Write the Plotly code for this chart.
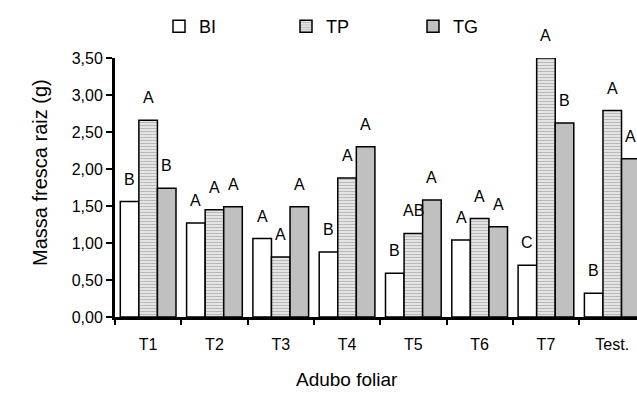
import plotly.graph_objects as go

categories = ["T1", "T2", "T3", "T4", "T5", "T6", "T7", "Test."]
series_names = ["BI", "TP", "TG"]
bi_values = [1.56, 1.27, 1.06, 0.88, 0.59, 1.04, 0.70, 0.32]
tp_values = [2.66, 1.45, 0.81, 1.88, 1.13, 1.33, 3.50, 2.79]
tg_values = [1.74, 1.49, 1.49, 2.30, 1.58, 1.22, 2.62, 2.14]
bi_letters = ["B", "A", "A", "B", "B", "A", "C", "B"]
tp_letters = ["A", "A", "A", "A", "AB", "A", "A", "A"]
tg_letters = ["B", "A", "A", "A", "A", "A", "B", "A"]
y_tick_values = [0, 0.5, 1.0, 1.5, 2.0, 2.5, 3.0, 3.5]

FONT = "Liberation Sans, Arial, sans-serif"
W, H = 637, 396
ML, MT, MB = 115, 58, 79
cat_px = 66.3
bargap = 0.16
plot_w = W - ML
plot_h = H - MT - MB
x_range = [-0.5, -0.5 + plot_w / cat_px]
bar_px = (1 - bargap) * cat_px / 3

fig = go.Figure()
fig.add_trace(go.Bar(name="BI", x=categories, y=bi_values,
                     marker=dict(color="white", line=dict(color="black", width=1.5))))
fig.add_trace(go.Bar(name="TP", x=categories, y=tp_values,
                     marker=dict(color="#e6e6e6", line=dict(color="black", width=1.5),
                                 pattern=dict(shape="-", fgcolor="#858585", bgcolor="#ececec",
                                              size=3, solidity=0.45))))
fig.add_trace(go.Bar(name="TG", x=categories, y=tg_values,
                     marker=dict(color="#c0c0c0", line=dict(color="black", width=1.5))))

annotations = []
for j, (vals, letters) in enumerate([(bi_values, bi_letters), (tp_values, tp_letters), (tg_values, tg_letters)]):
    for c, v, t in zip(categories, vals, letters):
        annotations.append(dict(x=c, y=v, xref="x", yref="y", text=t, showarrow=False,
                                xshift=(j - 1) * bar_px, yshift=12, yanchor="bottom",
                                font=dict(family=FONT, size=16, color="black")))

title_annos = [
    dict(px=27, py=173, text="Massa fresca raiz (g)", textangle=-90, size=20),
    dict(px=347, py=392, text="Adubo foliar", textangle=0, size=19),
]
for a in title_annos:
    annotations.append(dict(x=(a["px"] - ML) / plot_w, y=(H - MB - a["py"]) / plot_h,
                            xref="paper", yref="paper", text=a["text"], showarrow=False,
                            textangle=a["textangle"],
                            font=dict(family=FONT, size=a["size"], color="black")))

fig.update_layout(
    width=W, height=H,
    margin=dict(l=ML, r=0, t=MT, b=MB, pad=0),
    barmode="group", bargap=bargap, bargroupgap=0,
    plot_bgcolor="white", paper_bgcolor="white",
    separators=",.",
    font=dict(family=FONT, size=16, color="black"),
    legend=dict(orientation="h", x=(159 - ML) / plot_w, y=1 + (MT - 8) / plot_h,
                xanchor="left", yanchor="top", entrywidth=82, entrywidthmode="pixels",
                font=dict(family=FONT, size=18, color="black"), bgcolor="rgba(0,0,0,0)"),
    annotations=annotations,
    showlegend=True,
)
fig.update_xaxes(range=x_range, showline=True, linecolor="black", linewidth=2.5,
                 ticks="outside", tickson="boundaries", ticklen=5, tickwidth=2, tickcolor="black",
                 ticklabelstandoff=11,
                 showgrid=False, zeroline=False, tickfont=dict(family=FONT, size=16, color="black"))
fig.update_yaxes(range=[0, 3.5], tickvals=y_tick_values, tickformat=".2f", showline=True,
                 linecolor="black", linewidth=3, ticks="outside", ticklen=6, tickwidth=2,
                 tickcolor="black", showgrid=False, zeroline=False,
                 tickfont=dict(family=FONT, size=16, color="black"))

fig.write_html("out.html", config={"displayModeBar": False},
               post_script="document.body.style.margin='0';document.body.style.overflow='hidden';")
